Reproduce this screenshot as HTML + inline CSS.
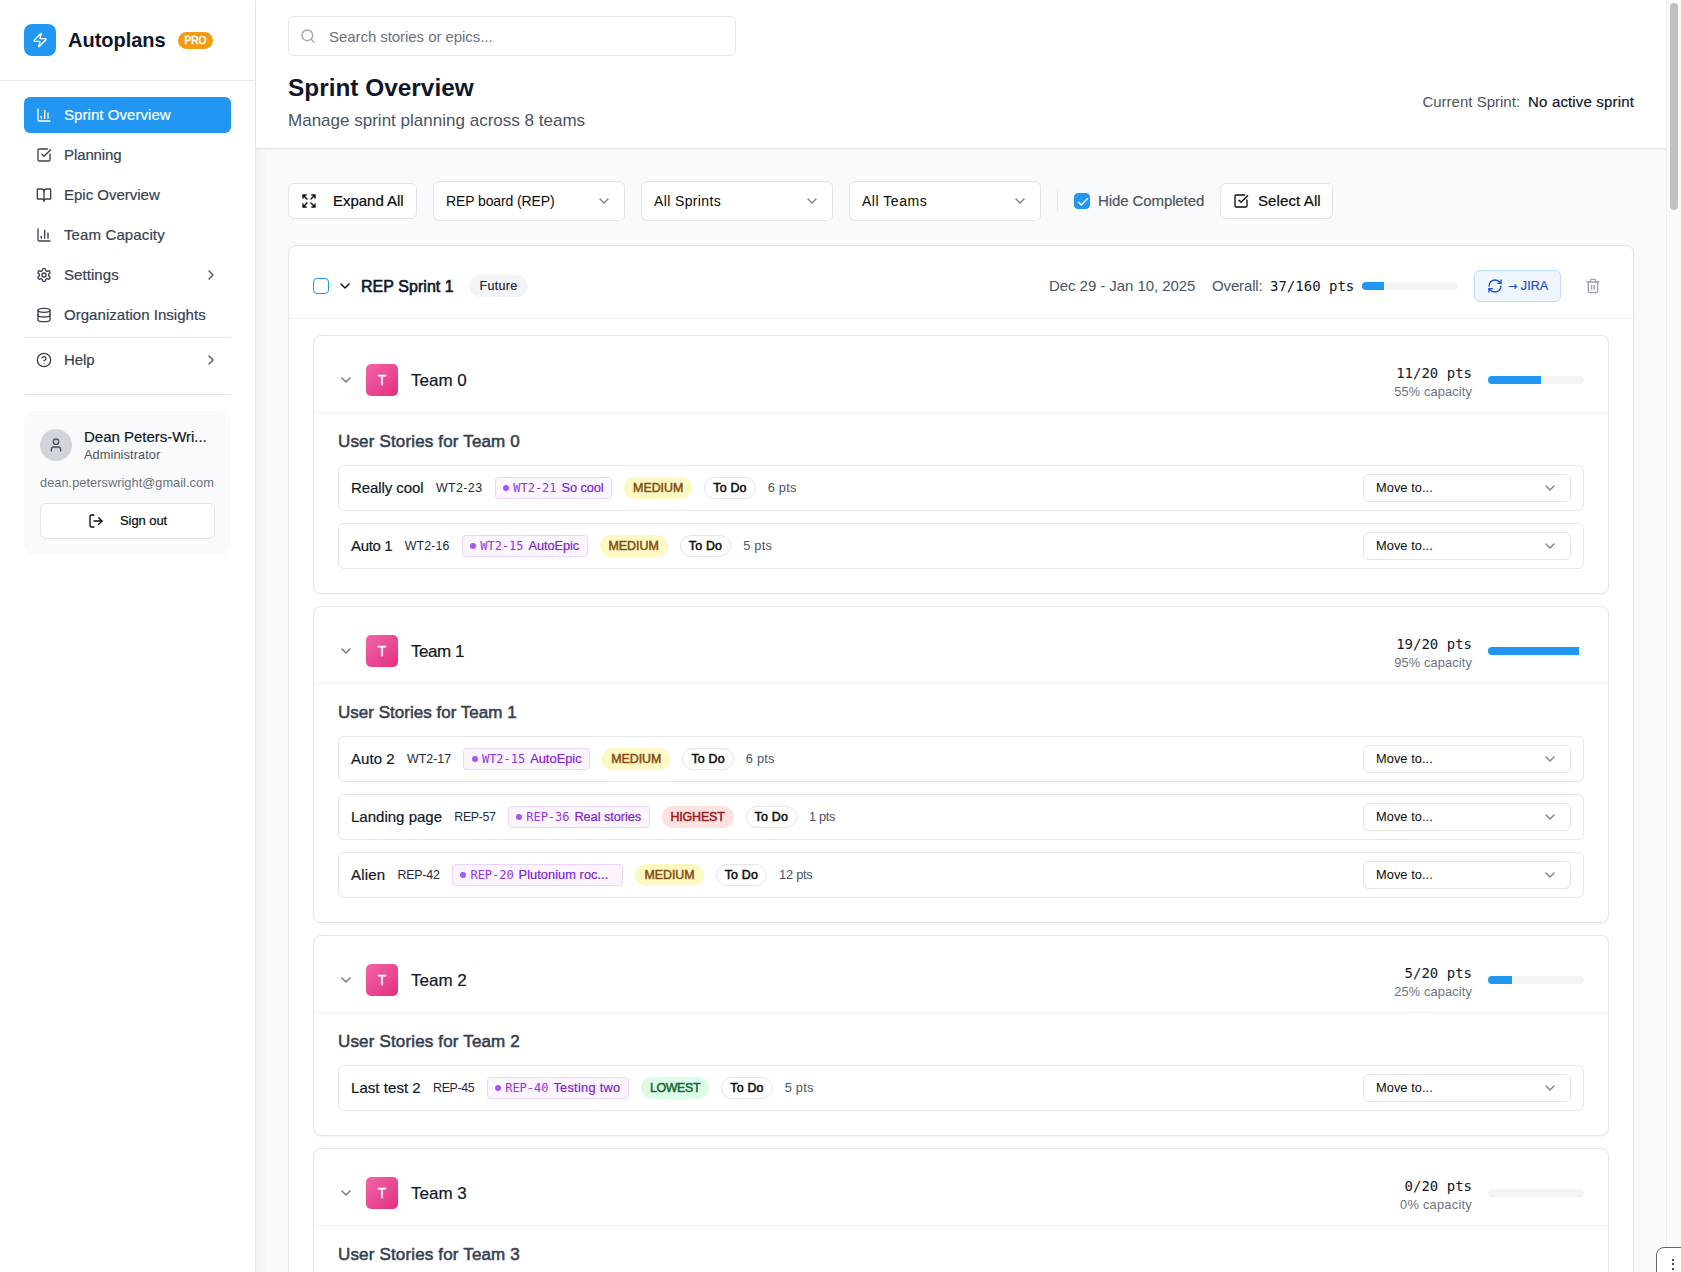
<!DOCTYPE html>
<html lang="en"><head><meta charset="utf-8"><title>Autoplans - Sprint Overview</title>
<style>
*{box-sizing:border-box}
html,body{margin:0;padding:0}
body{width:1681px;height:1272px;overflow:hidden;position:relative;background:#f9fafb;color:#111827;
 font-family:"Liberation Sans",sans-serif;font-size:15px;-webkit-font-smoothing:antialiased}
svg{display:block;flex:none}
.t{display:inline-block;white-space:nowrap}
.md{-webkit-text-stroke:.2px currentColor}
.sb{-webkit-text-stroke:.55px currentColor}
.mono{font-family:"DejaVu Sans Mono","Liberation Mono",monospace}
aside{position:absolute;left:0;top:0;width:256px;height:1272px;background:#fff;border-right:1px solid #e5e7eb}
.brand{height:81px;border-bottom:1px solid #e5e7eb;position:relative}
.logo{position:absolute;left:24px;top:24px;width:32px;height:32px;border-radius:8px;background:#2196f3;color:#fff;display:flex;align-items:center;justify-content:center}
.bname{position:absolute;left:68px;top:26px;font-size:20px;font-weight:700;line-height:28px;color:#0f172a}
.pro{position:absolute;left:178px;top:32px;width:35px;height:17px;border-radius:9px;background:#f39c12;color:#fff;font-size:10.2px;-webkit-text-stroke:.5px #fff;line-height:17px;text-align:center}
nav{position:absolute;left:24px;top:97px;width:207px}
.ni{height:36px;margin-bottom:4px;border-radius:6px;display:flex;align-items:center;padding-left:12px;color:#374151;font-size:15px;position:relative}
.ni svg{margin-right:12px}
.ni .t{position:relative;top:-1px}
.ni.on{background:#2196f3;color:#fff}
.ni .cr{position:absolute;right:12px;top:10px;margin:0;color:#4b5563}
.sep{height:1px;background:#e5e7eb}
.ucard{position:absolute;left:24px;top:411px;width:207px;height:144px;border-radius:10px;background:#f9fafb}
.av{position:absolute;left:16px;top:18px;width:32px;height:32px;border-radius:50%;background:#d1d5db;color:#4b5563;display:flex;align-items:center;justify-content:center}
.un{position:absolute;left:60px;top:16px;font-size:15px;line-height:20px;color:#111827}
.ur{position:absolute;left:60px;top:36px;font-size:12.8px;line-height:16px;color:#4b5563}
.ue{position:absolute;left:16px;top:64px;font-size:12.8px;line-height:16px;color:#6b7280}
.so{position:absolute;left:16px;top:92px;width:175px;height:36px;border:1px solid #e7e5e4;border-radius:6px;background:#fff;color:#0c0a09}
.so svg{position:absolute;left:47px;top:9px}
.so .t{position:absolute;left:79px;top:9px;font-size:13px;line-height:16px}
main{position:absolute;left:256px;top:0;width:1410px;height:1272px}
header{height:149px;background:#fff;border-bottom:1px solid #e5e7eb;position:relative;box-shadow:0 1px 2px rgba(0,0,0,.04)}
.search{position:absolute;left:32px;top:16px;width:448px;height:40px;border:1px solid #e7e5e4;border-radius:6px;background:#fff;color:#9ca3af}
.search svg{position:absolute;left:11px;top:11px}
.search .t{position:absolute;left:40px;top:10px;font-size:15px;line-height:20px;color:#6b7280}
h1{position:absolute;left:32px;top:72px;margin:0;font-size:24.4px;line-height:32px;font-weight:700;color:#0f172a}
.sub{position:absolute;left:32px;top:109px;font-size:17px;line-height:24px;color:#4b5563}
.cs{position:absolute;right:32px;top:92px;font-size:15px;line-height:20px;color:#4b5563;display:flex}
.cs b{font-weight:400;color:#111827;margin-left:8px}
.tb{position:absolute;left:32px;top:181px;height:40px;width:1346px}
.btn{position:absolute;top:2px;height:36px;border:1px solid #e7e5e4;border-radius:6px;background:#fff;color:#0c0a09;font-size:15px}
.btn svg{position:absolute;left:12px;top:9px}
.btn .t{position:absolute;left:44px;top:7px;line-height:20px}
.btn .sa{left:37px}
.sel{position:absolute;top:0;width:192px;height:40px;border:1px solid #e7e5e4;border-radius:6px;background:#fff;color:#0c0a09;font-size:14px}
.sel .t{position:absolute;left:12px;top:9px;line-height:20px}
.sel svg{position:absolute;right:12px;top:11px;color:#7c7f86}
.vd{position:absolute;left:769px;top:10px;width:1px;height:20px;background:#e5e7eb}
.cb{position:absolute;width:16px;height:16px;border-radius:4px;border:1px solid #2196f3;background:#fff;color:#fff}
.cb.on{background:#2196f3}
.cb svg{position:absolute;left:1px;top:1px}
.hc{position:absolute;left:810px;top:10px;font-size:15px;line-height:20px;color:#4b5563}
.sprint{position:absolute;left:32px;top:245px;width:1346px;height:1100px;border:1px solid #e7e5e4;border-radius:8px;background:#fff;box-shadow:0 1px 2px rgba(0,0,0,.04)}
.sh{height:73px;border-bottom:1px solid #f0f1f3;position:relative}
.sh .cv{position:absolute;left:48px;top:32px;color:#0c0a09}
.sname{position:absolute;left:72px;top:29px;font-size:16px;line-height:24px;-webkit-text-stroke:.6px #111827;color:#111827}
.fut{position:absolute;left:180px;top:29px;width:59px;height:22px;border-radius:11px;background:#f3f4f6;color:#1f2937;font-size:12.6px;line-height:22px;text-align:center}
.date{position:absolute;left:760px;top:30px;font-size:15px;line-height:20px;color:#4b5563}
.ov{position:absolute;left:923px;top:30px;font-size:15px;line-height:20px;color:#4b5563}
.opts{position:absolute;left:981px;top:30px;font-size:14px;line-height:20px;color:#111827}
.bar{position:absolute;width:96px;height:8px;border-radius:4px;background:#f4f4f3;overflow:hidden}
.bar i{display:block;height:8px;background:#2196f3}
.jira{position:absolute;left:1185px;top:24px;width:87px;height:32px;border:1px solid #bfdbfe;border-radius:6px;background:#eff6ff;color:#1d4ed8}
.jira svg{position:absolute;left:12px;top:7px}
.jira .t{position:absolute;left:33px;top:7px;font-size:12.6px;line-height:16px}
.ar{font-family:"DejaVu Sans",sans-serif;font-size:11px}
.trash{position:absolute;left:1296px;top:32px;color:#9ca3af}
.sc{padding:16px 24px}
.team{border:1px solid #e7e5e4;border-radius:8px;background:#fff;margin-bottom:12px;box-shadow:0 1px 2px rgba(0,0,0,.04)}
.th{height:77px;border-bottom:1px solid #f0f1f3;position:relative}
.th .cv{position:absolute;left:24px;top:36px;color:#6b7280}
.ta{position:absolute;left:52px;top:28px;width:32px;height:32px;border-radius:5px;background:linear-gradient(135deg,#f165a9,#e2307f);color:#fff;font-size:14px;line-height:32px;text-align:center;-webkit-text-stroke:.3px #fff}
.tn{position:absolute;left:97px;top:33px;font-size:17px;line-height:24px;color:#111827}
.tp{position:absolute;right:136px;top:27px;font-size:14px;line-height:20px;color:#111827}
.tc{position:absolute;right:136px;top:48px;font-size:12.8px;line-height:16px;color:#6b7280}
.th .bar{right:24px;top:40px}
.tbody{padding:16px 24px 24px}
.tt{height:24px;margin-bottom:12px;font-size:17px;line-height:24px;color:#374151;padding-top:1px}
.row{height:46px;border:1px solid #e5e7eb;border-radius:6px;margin-top:12px;display:flex;align-items:center;padding:0 12px;position:relative;background:#fff}
.tt + .row{margin-top:0}
.rt,.en,.pt{position:relative;top:-1px}
.rt{font-size:15px;color:#111827;margin-right:12.3px}
.rk{font-size:12.4px;color:#1f2937;margin-right:12.3px}
.ep{height:22px;border:1px solid #e9d5ff;border-radius:4px;background:#faf5ff;display:flex;align-items:center;padding:0 7.5px;margin-right:12px}
.ep i{width:6px;height:6px;border-radius:50%;background:#a855f7;margin-right:4px;flex:none}
.ek{font-size:12px;color:#9333ea;margin-right:5px;letter-spacing:-.03px}
.en{font-size:12.8px;color:#7e22ce}
.pr{height:22px;border-radius:11px;padding:0 9px;font-size:12.4px;-webkit-text-stroke:.5px currentColor;line-height:22px;margin-right:12px}
.pr.m{background:#fef9c3;color:#854d0e}
.pr.h{background:#fee2e2;color:#991b1b}
.pr.l{background:#dcfce7;color:#166534}
.st{height:22px;border:1px solid #e7e5e4;border-radius:11px;padding:0 8px;font-size:12.4px;-webkit-text-stroke:.5px currentColor;line-height:20px;margin-right:12px;color:#0c0a09}
.pt{font-size:12.8px;color:#4b5563}
.mv{position:absolute;right:12px;top:8px;width:208px;height:28px;border:1px solid #e7e5e4;border-radius:6px;background:#fff}
.mv .t{position:absolute;left:12px;top:5px;font-size:12.8px;line-height:16px;color:#0c0a09}
.mv svg{position:absolute;right:12px;top:5px;color:#7c7f86}
.sshadow{position:absolute;left:256px;top:149px;width:12px;height:1123px;background:linear-gradient(to right,rgba(0,0,0,.03),rgba(0,0,0,0))}
.sbar{position:absolute;right:0;top:0;width:15px;height:1272px;background:#fafafa;border-left:1px solid #ededed}
.sbar i{position:absolute;left:3px;top:3px;width:8px;height:207px;border-radius:4px;background:#c1c1c1}
.fab{position:absolute;left:1656px;top:1247px;width:40px;height:40px;border:1px solid #666;border-radius:8px;background:#fff}
.fab i{position:absolute;left:15px;width:2.2px;height:2.2px;border-radius:50%;background:#111}
</style></head><body>
<aside>
<div class="brand"><div class="logo"><svg width="16" height="16" viewBox="0 0 24 24" fill="none" stroke="currentColor" stroke-width="2" stroke-linecap="round" stroke-linejoin="round"><path d="M4 14a1 1 0 0 1-.78-1.63l9.9-10.2a.5.5 0 0 1 .86.46l-1.92 6.02A1 1 0 0 0 13 10h7a1 1 0 0 1 .78 1.63l-9.9 10.2a.5.5 0 0 1-.86-.46l1.92-6.02A1 1 0 0 0 11 14z"/></svg></div><span class="t bname" style="letter-spacing:-0.01px">Autoplans</span><div class="pro"><span class="t" style="letter-spacing:0.01px">PRO</span></div></div>
<nav>
<div class="ni on"><svg width="16" height="16" viewBox="0 0 24 24" fill="none" stroke="currentColor" stroke-width="2" stroke-linecap="round" stroke-linejoin="round"><path d="M3 3v16a2 2 0 0 0 2 2h16"/><path d="M18 17V9"/><path d="M13 17V5"/><path d="M8 17v-3"/></svg><span class="t md" style="letter-spacing:0.06px">Sprint Overview</span></div>
<div class="ni"><svg width="16" height="16" viewBox="0 0 24 24" fill="none" stroke="currentColor" stroke-width="2" stroke-linecap="round" stroke-linejoin="round"><path d="M21 10.5V19a2 2 0 0 1-2 2H5a2 2 0 0 1-2-2V5a2 2 0 0 1 2-2h12.5"/><path d="m9 11 3 3L22 4"/></svg><span class="t md" style="letter-spacing:-0.10px">Planning</span></div>
<div class="ni"><svg width="16" height="16" viewBox="0 0 24 24" fill="none" stroke="currentColor" stroke-width="2" stroke-linecap="round" stroke-linejoin="round"><path d="M12 7v14"/><path d="M3 18a1 1 0 0 1-1-1V4a1 1 0 0 1 1-1h5a4 4 0 0 1 4 4 4 4 0 0 1 4-4h5a1 1 0 0 1 1 1v13a1 1 0 0 1-1 1h-6a3 3 0 0 0-3 3 3 3 0 0 0-3-3z"/></svg><span class="t md" style="letter-spacing:-0.01px">Epic Overview</span></div>
<div class="ni"><svg width="16" height="16" viewBox="0 0 24 24" fill="none" stroke="currentColor" stroke-width="2" stroke-linecap="round" stroke-linejoin="round"><path d="M3 3v16a2 2 0 0 0 2 2h16"/><path d="M18 17V9"/><path d="M13 17V5"/><path d="M8 17v-3"/></svg><span class="t md" style="letter-spacing:0.12px">Team Capacity</span></div>
<div class="ni"><svg width="16" height="16" viewBox="0 0 24 24" fill="none" stroke="currentColor" stroke-width="2" stroke-linecap="round" stroke-linejoin="round"><path d="M12.22 2h-.44a2 2 0 0 0-2 2v.18a2 2 0 0 1-1 1.73l-.43.25a2 2 0 0 1-2 0l-.15-.08a2 2 0 0 0-2.73.73l-.22.38a2 2 0 0 0 .73 2.73l.15.1a2 2 0 0 1 1 1.72v.51a2 2 0 0 1-1 1.74l-.15.09a2 2 0 0 0-.73 2.73l.22.38a2 2 0 0 0 2.73.73l.15-.08a2 2 0 0 1 2 0l.43.25a2 2 0 0 1 1 1.73V20a2 2 0 0 0 2 2h.44a2 2 0 0 0 2-2v-.18a2 2 0 0 1 1-1.73l.43-.25a2 2 0 0 1 2 0l.15.08a2 2 0 0 0 2.73-.73l.22-.39a2 2 0 0 0-.73-2.73l-.15-.08a2 2 0 0 1-1-1.74v-.5a2 2 0 0 1 1-1.74l.15-.09a2 2 0 0 0 .73-2.73l-.22-.38a2 2 0 0 0-2.73-.73l-.15.08a2 2 0 0 1-2 0l-.43-.25a2 2 0 0 1-1-1.73V4a2 2 0 0 0-2-2z"/><circle cx="12" cy="12" r="3"/></svg><span class="t md" style="letter-spacing:0.07px">Settings</span><svg class="cr" width="16" height="16" viewBox="0 0 24 24" fill="none" stroke="currentColor" stroke-width="2" stroke-linecap="round" stroke-linejoin="round"><path d="m9 18 6-6-6-6"/></svg></div>
<div class="ni"><svg width="16" height="16" viewBox="0 0 24 24" fill="none" stroke="currentColor" stroke-width="2" stroke-linecap="round" stroke-linejoin="round"><ellipse cx="12" cy="5" rx="9" ry="3"/><path d="M3 5V19A9 3 0 0 0 21 19V5"/><path d="M3 12A9 3 0 0 0 21 12"/></svg><span class="t md" style="letter-spacing:0.04px">Organization Insights</span></div>
<div class="sep" style="margin:4px 0 4px"></div>
<div class="ni"><svg width="16" height="16" viewBox="0 0 24 24" fill="none" stroke="currentColor" stroke-width="2" stroke-linecap="round" stroke-linejoin="round"><circle cx="12" cy="12" r="10"/><path d="M9.09 9a3 3 0 0 1 5.83 1c0 2-3 3-3 3"/><path d="M12 17h.01"/></svg><span class="t md" style="letter-spacing:-0.05px">Help</span><svg class="cr" width="16" height="16" viewBox="0 0 24 24" fill="none" stroke="currentColor" stroke-width="2" stroke-linecap="round" stroke-linejoin="round"><path d="m9 18 6-6-6-6"/></svg></div>
<div class="sep" style="margin-top:16px"></div>
</nav>
<div class="ucard"><div class="av"><svg width="16" height="16" viewBox="0 0 24 24" fill="none" stroke="currentColor" stroke-width="2" stroke-linecap="round" stroke-linejoin="round"><path d="M19 21v-2a4 4 0 0 0-4-4H9a4 4 0 0 0-4 4v2"/><circle cx="12" cy="7" r="4"/></svg></div><span class="t un md" style="letter-spacing:-0.02px">Dean Peters-Wri...</span><span class="t ur" style="letter-spacing:0.07px">Administrator</span><span class="t ue" style="letter-spacing:0.03px">dean.peterswright@gmail.com</span>
<div class="so"><svg width="16" height="16" viewBox="0 0 24 24" fill="none" stroke="currentColor" stroke-width="2" stroke-linecap="round" stroke-linejoin="round"><path d="M9 21H5a2 2 0 0 1-2-2V5a2 2 0 0 1 2-2h4"/><polyline points="16 17 21 12 16 7"/><line x1="21" x2="9" y1="12" y2="12"/></svg><span class="t md" style="letter-spacing:-0.07px">Sign out</span></div></div>
</aside>
<main>
<header>
<div class="search"><svg width="16" height="16" viewBox="0 0 24 24" fill="none" stroke="currentColor" stroke-width="2" stroke-linecap="round" stroke-linejoin="round"><circle cx="11" cy="11" r="8"/><path d="m21 21-4.3-4.3"/></svg><span class="t" style="letter-spacing:-0.06px">Search stories or epics...</span></div>
<h1 class="t" style="letter-spacing:-0.00px">Sprint Overview</h1>
<span class="t sub" style="letter-spacing:0.01px">Manage sprint planning across 8 teams</span>
<div class="cs"><span class="t" style="letter-spacing:0.01px">Current Sprint:</span><b><span class="t md" style="letter-spacing:0.16px">No active sprint</span></b></div>
</header>
<div class="tb">
<div class="btn" style="left:0;width:129px"><svg width="16" height="16" viewBox="0 0 24 24" fill="none" stroke="currentColor" stroke-width="2" stroke-linecap="round" stroke-linejoin="round"><path d="m21 21-6-6m6 6v-4.8m0 4.8h-4.8"/><path d="M3 16.2V21m0 0h4.8M3 21l6-6"/><path d="M21 7.8V3m0 0h-4.8M21 3l-6 6"/><path d="M3 7.8V3m0 0h4.8M3 3l6 6"/></svg><span class="t md" style="letter-spacing:-0.02px">Expand All</span></div>
<div class="sel" style="left:145px"><span class="t" style="letter-spacing:-0.11px">REP board (REP)</span><svg width="16" height="16" viewBox="0 0 24 24" fill="none" stroke="currentColor" stroke-width="2" stroke-linecap="round" stroke-linejoin="round"><path d="m6 9 6 6 6-6"/></svg></div>
<div class="sel" style="left:353px"><span class="t" style="letter-spacing:0.37px">All Sprints</span><svg width="16" height="16" viewBox="0 0 24 24" fill="none" stroke="currentColor" stroke-width="2" stroke-linecap="round" stroke-linejoin="round"><path d="m6 9 6 6 6-6"/></svg></div>
<div class="sel" style="left:561px"><span class="t" style="letter-spacing:0.53px">All Teams</span><svg width="16" height="16" viewBox="0 0 24 24" fill="none" stroke="currentColor" stroke-width="2" stroke-linecap="round" stroke-linejoin="round"><path d="m6 9 6 6 6-6"/></svg></div>
<div class="vd"></div>
<div class="cb on" style="left:786px;top:12px"><svg width="14" height="14" viewBox="0 0 24 24" fill="none" stroke="currentColor" stroke-width="2.4" stroke-linecap="round" stroke-linejoin="round"><path d="M20 6 9 17l-5-5"/></svg></div>
<span class="t hc md" style="letter-spacing:-0.10px">Hide Completed</span>
<div class="btn" style="left:932px;width:113px"><svg width="16" height="16" viewBox="0 0 24 24" fill="none" stroke="currentColor" stroke-width="2" stroke-linecap="round" stroke-linejoin="round"><path d="M21 10.5V19a2 2 0 0 1-2 2H5a2 2 0 0 1-2-2V5a2 2 0 0 1 2-2h12.5"/><path d="m9 11 3 3L22 4"/></svg><span class="t md sa" style="letter-spacing:0.11px">Select All</span></div>
</div>
<section class="sprint">
<div class="sh"><div class="cb" style="left:24px;top:32px"></div><svg class="cv" width="16" height="16" viewBox="0 0 24 24" fill="none" stroke="currentColor" stroke-width="2" stroke-linecap="round" stroke-linejoin="round"><path d="m6 9 6 6 6-6"/></svg><span class="t sname" style="letter-spacing:0.05px">REP Sprint 1</span>
<div class="fut"><span class="t md" style="letter-spacing:0.26px">Future</span></div>
<span class="t date" style="letter-spacing:-0.06px">Dec 29 - Jan 10, 2025</span><span class="t ov" style="letter-spacing:-0.14px">Overall:</span><span class="t opts mono">37/160 pts</span>
<div class="bar" style="left:1073px;top:36px"><i style="width:23%"></i></div>
<div class="jira"><svg width="16" height="16" viewBox="0 0 24 24" fill="none" stroke="currentColor" stroke-width="2" stroke-linecap="round" stroke-linejoin="round"><path d="M3 12a9 9 0 0 1 9-9 9.75 9.75 0 0 1 6.74 2.74L21 8"/><path d="M21 3v5h-5"/><path d="M21 12a9 9 0 0 1-9 9 9.75 9.75 0 0 1-6.74-2.74L3 16"/><path d="M8 16H3v5"/></svg><span class="t md" style="letter-spacing:0.04px"><span class="ar">&rarr;</span> JIRA</span></div><svg class="trash" width="16" height="16" viewBox="0 0 24 24" fill="none" stroke="currentColor" stroke-width="2" stroke-linecap="round" stroke-linejoin="round"><path d="M3 6h18"/><path d="M19 6v14c0 1-1 2-2 2H7c-1 0-2-1-2-2V6"/><path d="M8 6V4c0-1 1-2 2-2h4c1 0 2 1 2 2v2"/><line x1="10" x2="10" y1="11" y2="17"/><line x1="14" x2="14" y1="11" y2="17"/></svg></div>
<div class="sc">
<div class="team"><div class="th"><svg class="cv" width="16" height="16" viewBox="0 0 24 24" fill="none" stroke="currentColor" stroke-width="2" stroke-linecap="round" stroke-linejoin="round"><path d="m6 9 6 6 6-6"/></svg><div class="ta">T</div><span class="t tn md" style="letter-spacing:-0.01px">Team 0</span><span class="t tp mono">11/20 pts</span><span class="t tc" style="letter-spacing:0.14px">55% capacity</span><div class="bar"><i style="width:55%"></i></div></div><div class="tbody"><div class="tt"><span class="t sb" style="letter-spacing:0.16px">User Stories for Team 0</span></div><div class="row"><span class="t rt md" style="letter-spacing:-0.07px">Really cool</span><span class="t rk" style="letter-spacing:0.42px">WT2-23</span><div class="ep"><i></i><span class="t ek mono">WT2-21</span><span class="t en md" style="letter-spacing:-0.08px">So cool</span></div><div class="pr m"><span class="t" style="letter-spacing:-0.01px">MEDIUM</span></div><div class="st"><span class="t" style="letter-spacing:0.21px">To Do</span></div><span class="t pt" style="letter-spacing:0.24px">6 pts</span><div class="mv"><span class="t" style="letter-spacing:0.06px">Move to...</span><svg width="16" height="16" viewBox="0 0 24 24" fill="none" stroke="currentColor" stroke-width="2" stroke-linecap="round" stroke-linejoin="round"><path d="m6 9 6 6 6-6"/></svg></div></div><div class="row"><span class="t rt md" style="letter-spacing:-0.33px">Auto 1</span><span class="t rk" style="letter-spacing:0.12px">WT2-16</span><div class="ep"><i></i><span class="t ek mono">WT2-15</span><span class="t en md" style="letter-spacing:-0.08px">AutoEpic</span></div><div class="pr m"><span class="t" style="letter-spacing:-0.01px">MEDIUM</span></div><div class="st"><span class="t" style="letter-spacing:0.21px">To Do</span></div><span class="t pt" style="letter-spacing:0.24px">5 pts</span><div class="mv"><span class="t" style="letter-spacing:0.06px">Move to...</span><svg width="16" height="16" viewBox="0 0 24 24" fill="none" stroke="currentColor" stroke-width="2" stroke-linecap="round" stroke-linejoin="round"><path d="m6 9 6 6 6-6"/></svg></div></div></div></div>
<div class="team"><div class="th"><svg class="cv" width="16" height="16" viewBox="0 0 24 24" fill="none" stroke="currentColor" stroke-width="2" stroke-linecap="round" stroke-linejoin="round"><path d="m6 9 6 6 6-6"/></svg><div class="ta">T</div><span class="t tn md" style="letter-spacing:-0.47px">Team 1</span><span class="t tp mono">19/20 pts</span><span class="t tc" style="letter-spacing:0.14px">95% capacity</span><div class="bar"><i style="width:95%"></i></div></div><div class="tbody"><div class="tt"><span class="t sb" style="letter-spacing:0.02px">User Stories for Team 1</span></div><div class="row"><span class="t rt md" style="letter-spacing:0.07px">Auto 2</span><span class="t rk" style="letter-spacing:0.00px">WT2-17</span><div class="ep"><i></i><span class="t ek mono">WT2-15</span><span class="t en md" style="letter-spacing:0.04px">AutoEpic</span></div><div class="pr m"><span class="t" style="letter-spacing:-0.01px">MEDIUM</span></div><div class="st"><span class="t" style="letter-spacing:0.21px">To Do</span></div><span class="t pt" style="letter-spacing:0.24px">6 pts</span><div class="mv"><span class="t" style="letter-spacing:0.06px">Move to...</span><svg width="16" height="16" viewBox="0 0 24 24" fill="none" stroke="currentColor" stroke-width="2" stroke-linecap="round" stroke-linejoin="round"><path d="m6 9 6 6 6-6"/></svg></div></div><div class="row"><span class="t rt md" style="letter-spacing:0.01px">Landing page</span><span class="t rk" style="letter-spacing:-0.38px">REP-57</span><div class="ep"><i></i><span class="t ek mono">REP-36</span><span class="t en md" style="letter-spacing:-0.08px">Real stories</span></div><div class="pr h"><span class="t" style="letter-spacing:-0.15px">HIGHEST</span></div><div class="st"><span class="t" style="letter-spacing:0.21px">To Do</span></div><span class="t pt" style="letter-spacing:-0.36px">1 pts</span><div class="mv"><span class="t" style="letter-spacing:0.06px">Move to...</span><svg width="16" height="16" viewBox="0 0 24 24" fill="none" stroke="currentColor" stroke-width="2" stroke-linecap="round" stroke-linejoin="round"><path d="m6 9 6 6 6-6"/></svg></div></div><div class="row"><span class="t rt md" style="letter-spacing:0.16px">Alien</span><span class="t rk" style="letter-spacing:-0.20px">REP-42</span><div class="ep" style="width:171.5px"><i></i><span class="t ek mono">REP-20</span><span class="t en md" style="letter-spacing:0.05px">Plutonium roc...</span></div><div class="pr m"><span class="t" style="letter-spacing:-0.01px">MEDIUM</span></div><div class="st"><span class="t" style="letter-spacing:0.21px">To Do</span></div><span class="t pt" style="letter-spacing:-0.23px">12 pts</span><div class="mv"><span class="t" style="letter-spacing:0.06px">Move to...</span><svg width="16" height="16" viewBox="0 0 24 24" fill="none" stroke="currentColor" stroke-width="2" stroke-linecap="round" stroke-linejoin="round"><path d="m6 9 6 6 6-6"/></svg></div></div></div></div>
<div class="team"><div class="th"><svg class="cv" width="16" height="16" viewBox="0 0 24 24" fill="none" stroke="currentColor" stroke-width="2" stroke-linecap="round" stroke-linejoin="round"><path d="m6 9 6 6 6-6"/></svg><div class="ta">T</div><span class="t tn md" style="letter-spacing:-0.01px">Team 2</span><span class="t tp mono">5/20 pts</span><span class="t tc" style="letter-spacing:0.14px">25% capacity</span><div class="bar"><i style="width:25%"></i></div></div><div class="tbody"><div class="tt"><span class="t sb" style="letter-spacing:0.16px">User Stories for Team 2</span></div><div class="row"><span class="t rt md" style="letter-spacing:0.05px">Last test 2</span><span class="t rk" style="letter-spacing:-0.34px">REP-45</span><div class="ep"><i></i><span class="t ek mono">REP-40</span><span class="t en md" style="letter-spacing:0.27px">Testing two</span></div><div class="pr l"><span class="t" style="letter-spacing:-0.33px">LOWEST</span></div><div class="st"><span class="t" style="letter-spacing:0.21px">To Do</span></div><span class="t pt" style="letter-spacing:0.24px">5 pts</span><div class="mv"><span class="t" style="letter-spacing:0.06px">Move to...</span><svg width="16" height="16" viewBox="0 0 24 24" fill="none" stroke="currentColor" stroke-width="2" stroke-linecap="round" stroke-linejoin="round"><path d="m6 9 6 6 6-6"/></svg></div></div></div></div>
<div class="team"><div class="th"><svg class="cv" width="16" height="16" viewBox="0 0 24 24" fill="none" stroke="currentColor" stroke-width="2" stroke-linecap="round" stroke-linejoin="round"><path d="m6 9 6 6 6-6"/></svg><div class="ta">T</div><span class="t tn md" style="letter-spacing:-0.01px">Team 3</span><span class="t tp mono">0/20 pts</span><span class="t tc" style="letter-spacing:0.27px">0% capacity</span><div class="bar"><i style="width:0%"></i></div></div><div class="tbody"><div class="tt"><span class="t sb" style="letter-spacing:0.16px">User Stories for Team 3</span></div></div></div>
</div>
</section>
</main>
<div class="sshadow"></div>
<div class="sbar"><i></i></div>
<div class="fab"><i style="top:10.5px"></i><i style="top:15px"></i><i style="top:19.5px"></i></div>
</body></html>
